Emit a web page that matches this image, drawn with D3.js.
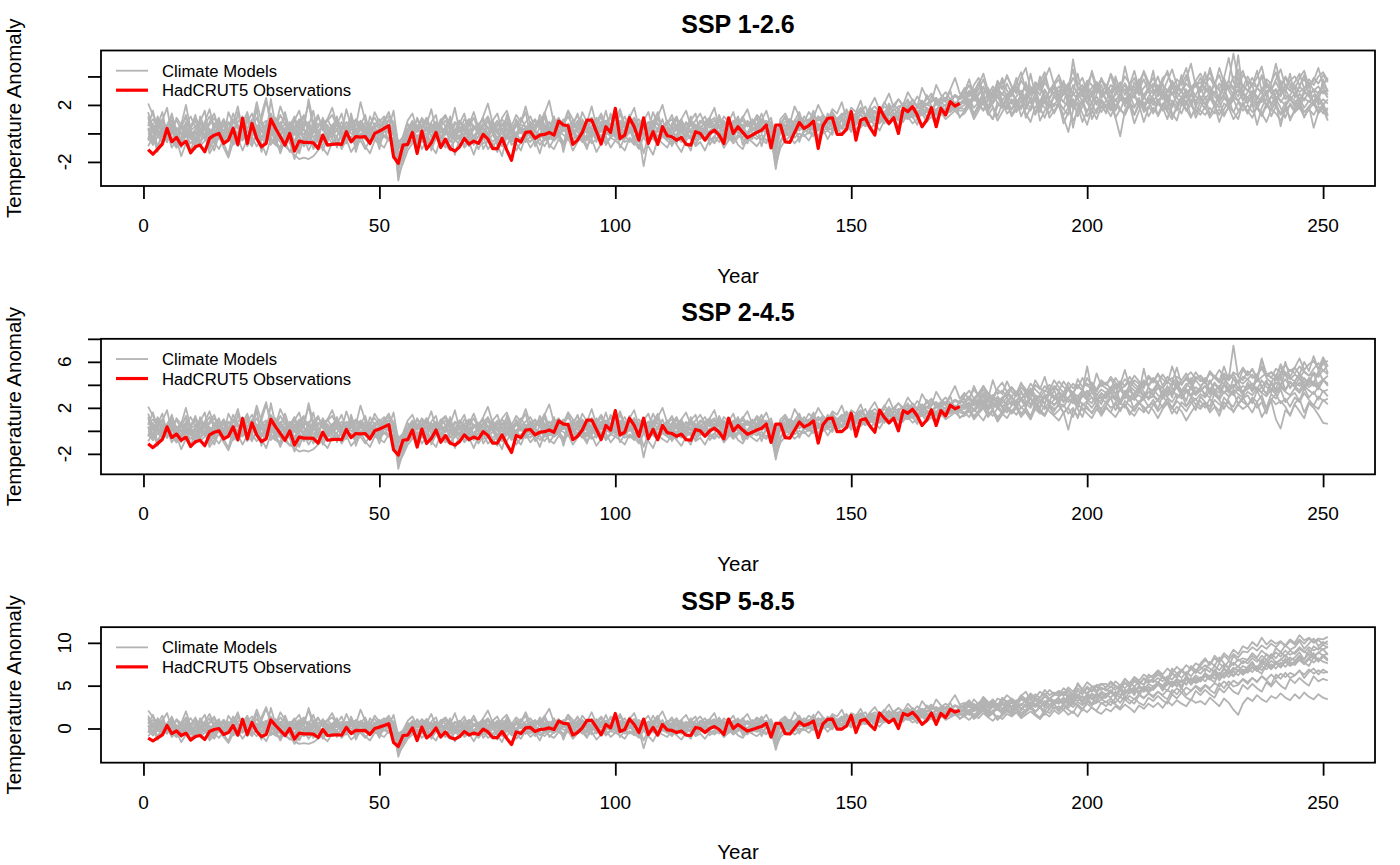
<!DOCTYPE html>
<html><head><meta charset="utf-8">
<script src="https://cdn.jsdelivr.net/npm/d3@7"></script>
<style>
body{margin:0;background:#fff}
svg{display:block}
text{font-family:"Liberation Sans",Arial,Helvetica,sans-serif;fill:#000}
</style>
</head><body>
<svg id="chart" width="1400" height="865"></svg>
<script>
// ---------------- DATA ----------------
const scenarioTitles = ["SSP 1-2.6", "SSP 2-4.5", "SSP 5-8.5"];
const xTickValues = [0, 50, 100, 150, 200, 250];
const yTickValues = [[-2, 0, 2, 4], [-2, 0, 2, 4, 6, 8], [0, 5, 10]];
const yTickLabels = [[-2, 2], [-2, 2, 6], [0, 5, 10]];
const yDomains = [[-3.69, 5.82], [-3.78, 8.0], [-3.99, 11.83]];
const legendLabels = ["Climate Models", "HadCRUT5 Observations"];
const xLabel = "Year";
const yLabel = "Temperature Anomaly";

// HadCRUT5 observations, years 1..173
const observations = [
-1.13,-1.46,-1.1,-0.75,0.35,-0.59,-0.28,-0.82,-0.54,-1.36,
-0.94,-0.82,-1.29,-0.35,-0.12,0.0,-0.7,-0.47,0.35,-0.77,
1.06,-0.7,0.7,-0.35,-0.94,-0.7,1.0,0.35,-0.23,-0.82,
0.0,-1.24,-0.54,-0.63,-0.63,-0.66,-1.06,-0.12,-0.82,-0.77,
-0.73,-0.77,0.12,-0.59,-0.23,-0.26,-0.23,-0.7,0.0,0.16,
0.35,0.54,-1.64,-2.1,-0.82,-0.77,0.07,-1.41,0.16,-1.1,
-0.66,0.07,-0.99,-0.4,-1.06,-1.24,-0.94,-0.35,-0.75,-0.54,
-0.7,-0.07,-0.4,-1.06,-1.06,-0.35,-1.17,-1.88,-0.4,-0.59,
0.07,0.12,-0.35,-0.12,-0.07,0.07,-0.12,0.87,0.59,0.54,
-0.77,-0.47,0.07,0.94,0.94,0.12,-0.75,0.47,0.07,1.76,
-0.35,-0.12,1.1,0.47,-0.47,1.1,-0.7,0.12,-0.77,0.47,
-0.16,-0.23,-0.47,-0.28,-0.77,-0.82,0.12,0.0,-0.47,0.0,
0.23,-0.12,-0.7,1.1,0.0,0.47,0.07,-0.3,-0.12,0.07,
0.23,0.59,-1.01,0.59,0.59,-0.59,-0.63,0.07,0.77,0.35,
0.54,0.87,-1.06,0.54,1.06,1.1,-0.07,-0.07,0.3,1.53,
-0.47,0.94,1.06,0.4,-0.12,1.81,1.17,0.7,1.1,0.0,
1.76,1.53,1.88,1.29,0.47,0.94,1.81,0.47,1.76,1.29,
2.23,1.92,2.11];

// Climate models, historical part, years 1..173 (shared by all scenarios)
const modelHistory = [
[0.8,0.3,-0.2,0.5,0.1,-0.4,0.2,0.6,-0.1,0.3,
-0.5,0.1,0.4,-0.2,0.7,0.2,-0.3,0.0,0.5,-0.4,
0.3,0.9,0.1,-0.3,0.4,0.6,-0.2,0.2,0.8,0.0,
-0.6,0.1,0.3,-0.1,0.5,-0.3,0.2,0.4,-0.4,0.1,
0.6,0.0,-0.3,0.3,0.1,0.7,-0.2,0.2,0.4,-0.1,
0.5,0.2,0.6,-1.6,-0.9,-0.2,0.3,-0.4,0.1,0.5,
-0.2,0.3,0.6,-0.1,0.2,-0.5,0.4,0.1,-0.3,0.3,
0.5,-0.2,0.1,0.7,0.0,-0.4,0.3,0.2,-0.1,0.4,
0.2,0.6,-0.3,0.4,0.1,0.8,0.0,-0.2,0.5,0.3,
-0.1,0.4,0.7,0.2,-0.3,0.5,0.1,0.6,-0.2,0.3,
0.5,0.0,0.4,-0.3,0.2,0.7,0.1,-0.2,0.4,0.3,
-0.4,0.2,0.5,0.0,-0.2,0.3,0.6,0.1,-0.3,0.2,
0.4,0.1,-0.2,0.5,0.3,0.0,0.6,-0.1,0.3,0.2,
0.5,0.1,0.4,-0.8,0.2,0.3,0.6,0.2,0.5,0.4,
0.3,0.8,0.2,0.6,0.9,0.4,0.7,0.5,1.0,0.6,
0.9,0.7,1.2,0.8,1.1,0.9,1.4,1.0,1.3,1.2,
1.5,1.1,1.6,1.4,1.3,1.8,1.5,1.7,1.9,1.6,
2.0,1.8,2.1],
[2.1,1.3,0.6,1.0,0.2,0.8,-0.3,0.5,1.1,0.4,
0.9,-0.2,0.6,1.2,0.3,-0.4,0.7,0.2,1.0,0.5,
-0.3,0.8,1.4,0.4,0.9,-0.1,0.6,1.1,0.2,0.7,
0.3,1.0,-0.2,0.5,0.8,0.1,1.2,0.4,-0.3,0.6,
0.9,0.2,0.5,1.1,-0.2,0.4,0.8,0.3,0.6,1.0,
0.4,0.9,0.7,-0.9,-0.6,0.1,0.6,0.2,0.9,0.3,
0.7,0.1,1.0,0.5,-0.2,0.6,0.9,0.3,0.5,1.1,
0.2,0.6,0.9,0.0,0.5,1.0,0.4,-0.1,0.7,0.3,
0.8,1.2,0.4,0.6,1.5,0.3,0.8,0.5,1.0,0.2,
0.7,1.3,0.5,0.9,0.2,0.8,1.4,0.6,0.4,1.0,
0.6,1.2,0.3,0.8,0.5,1.1,0.2,0.7,1.0,0.4,
0.9,0.3,0.6,1.0,0.2,0.7,0.4,0.9,0.5,0.8,
1.1,0.4,0.7,0.2,0.9,0.6,1.2,0.5,0.8,0.3,
0.9,0.6,1.1,-0.3,0.5,0.8,1.0,0.6,1.2,0.9,
0.7,1.1,0.9,1.3,0.8,1.2,1.0,1.4,1.1,1.5,
1.2,1.6,1.3,1.8,1.5,1.4,1.9,1.6,2.0,1.7,
2.1,1.8,2.4,1.9,2.2,2.0,2.6,2.1,2.3,2.5,
2.2,2.7,2.4],
[-0.3,-0.8,-0.2,-0.6,0.1,-0.5,-1.0,-0.4,-0.1,-0.7,
-0.3,-0.9,-0.5,0.0,-0.6,-1.1,-0.4,-0.2,-0.8,-0.5,
-0.1,-0.6,-0.3,-0.9,-0.4,0.2,-0.5,-0.8,-0.2,-0.6,
-1.3,-0.7,-0.4,-0.9,-0.3,-0.6,-1.0,-0.5,-0.2,-0.7,
-0.4,-0.9,-0.6,-0.2,-0.8,-0.5,-1.1,-0.4,-0.3,-0.6,
-0.2,-0.5,-0.3,-2.3,-1.6,-0.9,-0.5,-0.8,-0.3,-0.6,
-0.9,-0.4,-0.2,-0.7,-1.0,-0.5,-0.3,-0.8,-0.4,-0.6,
-0.2,-0.7,-0.5,-1.0,-0.4,-0.6,-0.1,-0.8,-0.5,-0.3,
-0.6,-0.2,-0.7,-0.4,-0.9,-0.3,-0.5,-0.1,-0.6,-0.4,
-0.8,-0.3,-0.5,-0.1,-0.7,-0.4,-0.2,-0.6,-0.3,-0.5,
-0.1,-0.6,-0.4,-0.8,-0.2,-2.3,-0.5,-0.3,-0.7,-0.2,
-0.5,-0.8,-0.3,-0.6,-0.1,-0.4,-0.7,-0.2,-0.5,-0.3,
-0.6,-0.1,-0.4,-0.2,-0.7,-0.3,0.0,-0.5,-0.2,-0.4,
-0.1,-0.5,-0.2,-2.5,-0.6,-0.2,0.1,-0.3,0.0,-0.2,
0.1,-0.2,0.3,0.0,0.2,0.4,0.1,0.5,0.2,0.6,
0.3,0.7,0.5,0.9,0.6,0.8,1.0,0.7,1.1,0.9,
1.2,1.0,1.3,1.1,1.5,1.2,1.4,1.6,1.3,1.7,
1.5,1.8,1.6],
[0.4,-0.5,1.2,0.2,-0.3,0.7,0.1,-0.6,0.5,-0.2,
0.3,0.8,-0.4,0.1,-0.7,0.4,1.0,-0.1,0.2,0.6,
0.0,-0.5,0.4,1.1,0.2,-0.3,2.4,0.5,-0.2,0.3,
0.7,-0.1,0.5,0.2,-0.4,0.9,0.1,-0.3,0.6,0.0,
-0.2,0.5,0.1,0.8,0.3,-0.4,0.2,0.6,-0.1,0.4,
0.8,0.1,0.5,-1.4,-1.2,-0.5,0.2,0.6,-0.2,0.3,
0.1,0.6,-0.4,0.3,0.8,-0.1,0.2,0.5,-0.3,0.4,
0.7,0.2,-0.2,0.4,0.9,0.1,-0.4,0.3,0.6,0.0,
0.3,-0.3,0.5,0.8,0.1,0.4,-0.2,0.7,0.2,0.5,
0.9,0.1,-0.2,0.6,0.3,0.0,0.8,0.2,0.5,-0.1,
0.2,0.7,0.4,0.1,0.6,-0.2,0.3,0.9,0.1,0.4,
0.6,-0.1,0.3,0.2,0.8,0.0,0.5,-0.2,0.4,0.7,
0.1,0.5,0.8,0.2,-0.1,0.6,0.3,0.9,0.4,0.1,
0.7,0.3,0.0,-1.0,0.4,0.6,0.2,0.8,0.5,0.3,
0.9,0.5,0.7,0.3,1.0,0.6,0.8,1.2,0.7,1.0,
1.3,0.8,1.1,1.4,0.9,1.6,1.2,1.5,1.1,1.7,
1.4,1.9,1.5,1.3,2.0,1.7,1.4,2.2,1.8,2.0,
2.4,1.9,2.2],
[1.0,0.6,0.2,-0.1,0.5,0.9,0.3,0.0,0.6,1.2,
0.4,0.1,0.7,0.3,-0.2,0.5,0.2,0.8,0.4,0.0,
0.6,0.3,1.0,0.5,0.1,0.7,0.2,0.4,1.3,0.6,
0.2,0.5,0.9,0.3,0.0,0.6,0.4,1.0,0.2,0.5,
0.3,0.8,0.1,0.5,0.9,0.2,0.6,0.0,0.4,0.7,
0.3,0.6,0.2,-1.1,-0.7,-0.2,0.4,0.1,0.6,0.2,
0.5,0.8,0.3,0.0,0.6,0.2,0.9,0.4,0.1,0.5,
0.3,0.7,1.2,0.4,0.1,0.5,0.8,0.2,0.6,0.3,
0.0,0.5,0.9,0.3,0.6,0.1,0.4,1.0,0.5,0.2,
0.6,0.3,0.8,0.1,0.5,1.1,0.4,0.2,0.7,0.5,
0.3,0.8,0.2,0.6,1.0,0.4,0.1,0.5,0.7,0.3,
0.0,0.6,0.9,0.4,0.2,0.7,0.3,0.5,0.1,0.6,
0.9,0.4,0.2,0.7,0.5,0.1,0.6,0.8,0.3,0.5,
0.2,0.7,0.5,-0.5,0.1,0.6,0.4,0.8,0.3,0.7,
0.5,0.9,0.6,0.4,0.8,1.1,0.7,0.9,0.6,1.2,
0.9,1.3,1.0,1.2,1.5,1.1,1.4,1.3,1.7,1.4,
1.6,1.9,1.5,1.8,1.7,2.1,1.8,2.0,2.2,1.9,
2.3,2.1,2.0],
[-0.5,0.2,-0.9,-0.1,-0.6,0.3,-0.4,-1.0,0.0,-0.3,
-0.8,-0.2,0.4,-0.5,-1.2,-0.1,-0.6,0.2,-0.4,-0.9,
-0.2,0.3,-0.7,-0.1,-0.5,0.1,-0.8,-0.3,-1.4,-0.4,
0.1,-0.5,-0.2,-0.8,0.0,-1.1,-0.3,-0.6,0.2,-0.4,
-0.7,-0.1,-0.5,-0.3,-0.9,0.0,-0.4,-0.7,-0.2,-0.5,
-0.1,-0.4,0.1,-3.3,-1.8,-0.8,-0.5,-0.1,-0.6,-0.3,
-0.7,-0.2,-0.5,-1.0,-0.1,-0.4,-0.8,-0.2,-0.6,-0.3,
-1.1,-0.4,-0.1,-0.6,-0.3,-0.9,-0.2,-0.5,0.1,-0.7,
-0.3,-0.6,-0.1,-0.8,-0.4,0.0,-0.5,-0.2,-0.7,0.1,
-0.4,-0.2,-0.6,-0.3,0.2,-0.5,-0.1,-0.8,-0.3,0.0,
-0.5,-0.1,-0.6,-0.3,-0.9,-0.2,0.0,-0.4,-0.7,-0.1,
-0.3,-0.6,-0.2,-0.5,0.1,-0.4,-0.8,-0.2,0.0,-0.5,
-0.2,-0.6,0.0,-0.3,-0.5,-0.1,-0.4,-0.7,0.1,-0.2,
-0.4,0.1,-0.3,-1.9,-0.5,0.0,-0.2,0.2,-0.3,0.1,
0.3,-0.1,0.4,0.1,0.5,0.2,0.6,0.3,0.7,0.4,
0.6,0.9,0.5,0.8,1.1,0.7,1.0,0.8,1.3,1.0,
1.1,1.4,1.2,1.6,1.3,1.5,1.8,1.4,1.7,1.5,
1.9,1.6,1.8],
[1.5,0.2,0.9,-0.2,0.6,1.3,0.1,0.7,-0.3,0.5,
1.1,0.4,-0.1,0.8,1.4,0.2,0.6,-0.4,0.9,0.3,
0.7,1.5,0.0,0.4,0.9,2.3,1.0,0.3,0.6,-0.2,
0.5,1.2,0.2,0.8,2.1,0.4,-0.1,0.6,1.0,0.3,
0.8,0.1,1.7,0.5,0.2,0.9,0.4,-0.2,0.7,0.3,
1.0,0.5,0.2,-1.0,-0.5,0.3,0.9,0.1,0.5,1.1,
0.3,-0.2,0.7,1.2,0.4,0.0,0.8,0.2,1.0,0.5,
-0.1,0.6,0.3,0.9,1.4,0.2,0.7,0.0,0.5,1.1,
0.4,0.8,0.1,1.3,0.6,0.2,1.0,0.4,0.7,1.6,
0.3,0.9,0.5,0.0,1.1,0.6,0.2,0.8,1.2,0.4,
1.4,0.5,0.9,0.2,0.7,1.0,0.3,1.5,0.6,0.1,
0.8,0.4,1.1,0.2,0.6,0.9,0.3,0.7,1.2,0.4,
0.6,1.0,0.3,0.8,0.5,1.2,0.2,0.7,0.9,0.4,
1.0,0.5,0.8,-0.4,0.6,1.1,0.4,0.9,0.6,1.2,
0.8,1.3,0.9,1.1,0.7,1.5,1.0,1.3,1.6,1.1,
1.4,1.8,1.2,1.6,1.9,1.5,2.2,1.7,2.0,2.4,
1.9,2.3,2.0,2.6,2.1,2.4,2.8,2.2,2.5,2.9,
2.4,2.7,2.5],
[0.0,-0.4,0.3,-0.7,-0.2,0.4,-0.1,-0.5,0.2,-0.3,
0.1,-0.6,-0.2,0.3,-0.4,0.0,-0.8,-0.3,0.2,-0.1,
-0.5,0.2,-0.2,0.5,-0.3,-0.7,0.1,-0.4,0.0,0.4,
-0.2,-0.6,0.1,-0.3,-0.8,0.2,-0.1,-0.5,0.0,-0.3,
0.3,-0.4,0.0,-0.6,-0.2,0.4,-0.3,0.1,-0.5,-0.1,
0.2,0.5,0.3,-1.8,-1.1,-0.6,0.0,-0.3,0.2,-0.2,
-0.5,0.1,-0.3,0.3,-0.6,-0.1,0.2,-0.4,0.0,-0.7,
-0.2,0.1,-0.5,-0.1,0.3,-0.4,0.0,-0.6,-0.2,0.2,
-0.1,0.3,-0.2,0.0,-0.5,0.4,-0.3,0.1,-0.1,-0.4,
0.2,-0.2,0.1,-0.5,0.0,0.3,-0.3,0.1,-0.2,0.4,
0.0,-0.3,0.2,0.5,-0.1,0.1,-0.4,0.0,0.3,-0.2,
0.1,-0.1,0.4,-0.3,0.0,0.2,-0.2,0.3,-0.1,0.1,
0.3,-0.2,0.1,0.4,0.0,0.2,-0.3,0.1,0.5,0.0,
0.2,0.4,0.0,-1.2,0.1,0.3,0.5,0.0,0.4,0.2,
0.6,0.3,0.5,0.8,0.4,0.7,0.5,0.9,0.6,0.8,
1.1,0.8,1.0,1.2,0.9,1.3,1.1,1.4,1.2,1.5,
1.3,1.6,1.4,1.2,1.7,1.5,1.9,1.6,1.4,1.8,
1.7,2.0,1.8],
[0.2,0.5,0.0,0.3,-0.3,0.1,0.4,-0.1,0.2,-0.4,
0.0,0.3,-0.2,-0.6,0.1,0.4,-0.1,0.2,-0.3,0.1,
0.4,-0.2,0.0,0.3,-0.4,0.1,0.5,-0.1,-0.6,-0.9,
-1.2,-1.5,-1.8,-1.7,-1.8,-1.6,-1.2,-0.8,-0.4,0.0,
0.2,-0.3,0.4,0.0,-0.2,0.3,0.1,-0.4,0.2,0.0,
0.3,0.0,0.4,-1.5,-0.8,-0.3,0.1,0.4,-0.2,0.0,
0.2,-0.3,0.1,0.4,-0.1,0.2,-0.4,0.0,0.3,-0.2,
0.1,0.4,-0.1,0.2,-0.3,0.0,0.3,0.1,-0.2,0.2,
0.4,0.0,0.2,-0.2,0.3,0.1,0.5,-0.1,0.2,0.0,
0.3,0.1,-0.2,0.4,0.0,0.2,0.5,-0.1,0.3,0.1,
-0.1,0.3,0.0,0.2,0.5,-0.1,0.1,0.3,-0.2,0.2,
0.4,0.0,-0.1,0.3,0.1,-0.3,0.2,0.4,0.0,0.1,
0.2,0.5,0.0,-0.1,0.3,0.4,0.1,0.0,0.2,0.5,
0.3,0.0,0.2,-0.6,0.4,0.1,0.3,0.5,0.2,0.6,
0.4,0.2,0.6,0.5,0.3,0.8,0.6,0.4,0.9,0.7,
0.9,0.6,1.0,0.8,1.2,1.0,0.8,1.3,1.1,1.2,
1.5,1.3,1.1,1.6,1.4,1.7,1.5,1.3,1.8,1.6,
1.7,1.9,2.0],
[0.6,1.0,0.4,0.8,0.1,0.5,0.9,0.3,0.7,0.2,
0.5,0.9,0.2,0.6,1.1,0.4,0.0,0.7,0.3,0.8,
1.2,0.4,0.7,0.1,0.6,0.9,0.3,1.0,0.5,0.2,
0.8,0.3,0.6,1.1,0.4,0.0,0.7,0.5,0.9,1.3,
0.5,0.2,0.8,0.4,1.0,0.6,0.1,0.7,1.1,0.5,
0.9,1.2,0.8,-0.6,-0.3,0.2,0.6,0.9,0.4,0.8,
0.3,0.7,0.5,0.9,0.2,0.8,0.4,0.6,1.0,0.3,
0.6,0.9,0.4,0.2,0.7,0.5,1.1,0.3,0.8,0.6,
0.5,0.1,0.6,1.0,0.4,0.8,0.3,0.9,0.6,1.2,
0.5,0.8,0.3,0.7,1.0,0.4,0.6,0.9,0.2,0.7,
0.9,0.4,0.7,1.1,0.5,0.3,0.8,0.6,1.2,0.4,
0.7,1.0,0.5,0.8,0.3,0.9,0.6,0.4,0.8,1.1,
0.5,0.8,0.6,1.0,0.4,0.7,0.9,0.5,0.6,1.0,
0.7,0.9,0.6,0.0,0.8,0.5,1.0,0.7,1.1,0.8,
1.0,0.7,1.2,0.9,1.1,1.3,0.9,1.2,1.4,1.1,
1.3,1.6,1.2,1.5,1.4,1.7,1.5,1.8,1.6,1.9,
2.0,1.7,2.1,1.9,2.3,2.0,2.2,2.5,2.1,2.4,
2.3,2.6,2.4],
[1.2,-0.5,0.6,1.5,-0.2,0.9,-0.8,0.4,1.3,0.0,
-0.6,0.8,1.6,-0.3,0.5,1.1,-0.7,0.2,1.4,0.6,
-0.4,1.0,0.1,1.8,-0.5,0.7,1.2,-0.2,0.4,1.5,
0.2,-0.9,0.8,1.3,-0.1,0.6,-0.6,1.1,0.3,-0.4,
1.0,0.4,-0.7,1.4,0.1,0.8,-0.3,1.2,0.5,-0.5,
0.9,1.5,0.3,-1.9,-0.4,0.7,-0.2,1.1,0.4,-0.6,
0.8,1.3,-0.4,0.5,1.0,-0.2,0.7,1.4,0.0,-0.8,
0.6,1.1,-0.3,0.9,0.2,-0.6,1.3,0.4,-0.1,0.8,
1.5,-0.2,0.6,1.0,-0.5,0.3,1.2,0.0,0.9,-0.4,
0.5,1.4,-0.1,0.7,1.1,-0.6,0.4,1.6,0.2,-0.3,
0.9,0.3,1.3,-0.4,0.6,1.0,-0.2,0.8,1.5,0.1,
-0.5,0.7,1.2,0.2,-0.3,0.9,1.4,-0.1,0.5,1.0,
0.0,1.3,0.4,-0.5,0.8,1.1,0.2,-0.2,1.0,0.6,
1.4,0.3,-0.3,-1.2,0.7,1.2,0.1,0.9,1.5,0.4,
0.8,1.6,0.3,1.1,0.6,1.4,0.9,0.4,1.7,1.0,
0.7,1.5,1.9,1.0,1.6,0.8,1.3,2.1,1.4,1.1,
1.8,2.4,1.3,2.0,1.6,2.7,1.9,1.4,2.5,2.2,
3.0,1.8,2.6],
[-0.4,0.7,-1.2,0.3,-0.6,0.9,-1.0,-0.2,0.5,-1.4,
0.2,-0.8,0.6,-1.1,-0.3,0.8,-0.7,-1.5,0.1,-0.5,
0.6,-0.9,-0.2,0.4,-1.3,0.0,0.7,-0.6,-1.0,0.3,
-0.7,0.5,-1.4,-0.3,0.6,-0.9,0.2,-1.2,-0.4,0.5,
-1.0,0.1,-0.6,0.8,-1.3,-0.2,0.4,-0.8,0.0,-1.1,
0.3,-0.5,0.6,-2.6,-1.4,-0.3,0.2,-0.9,-0.1,0.5,
-1.2,-0.3,0.4,-0.8,0.0,-1.5,-0.4,0.6,-0.9,-0.2,
0.3,-1.1,-0.5,0.5,-0.8,-1.6,-0.1,0.4,-0.7,-1.2,
-0.2,0.6,-0.9,-0.3,0.5,-1.0,-0.4,0.3,-1.3,0.1,
-0.6,0.7,-0.4,-1.1,0.2,-0.5,0.8,-0.8,-0.2,0.4,
-1.0,-0.3,0.5,-0.7,0.1,-1.4,-0.2,0.6,-0.6,0.0,
0.4,-0.9,-0.1,0.7,-0.6,-1.2,0.2,-0.4,0.5,-0.8,
-0.3,0.6,-1.0,0.1,-0.5,0.7,-0.8,0.0,-0.4,0.5,
-0.9,0.2,-0.3,-2.1,-0.7,0.4,-0.2,0.6,-0.6,0.3,
0.0,0.7,-0.4,0.9,0.2,-0.1,1.0,0.3,0.8,0.1,
1.1,0.4,0.9,1.4,0.5,1.2,0.7,1.6,0.9,1.3,
0.8,1.7,1.2,0.6,1.9,1.1,1.5,0.9,2.0,1.3,
1.6,2.2,1.1],
[0.5,1.6,0.2,0.9,1.8,-0.1,1.1,0.6,2.0,0.3,
1.3,0.0,0.8,1.7,0.4,1.0,-0.3,1.5,0.7,1.9,
0.2,1.2,0.6,2.2,0.8,0.1,1.4,0.5,1.9,1.0,
-0.2,0.9,1.6,0.3,2.4,0.7,1.3,0.2,1.0,1.8,
0.6,1.4,0.0,1.1,0.5,2.2,0.9,0.3,1.5,0.8,
1.2,0.4,1.6,-0.8,-0.2,0.9,1.4,0.3,1.1,0.6,
1.7,0.2,0.9,1.3,0.5,1.8,0.1,1.0,0.6,1.5,
0.4,1.2,2.1,0.7,0.0,1.1,1.6,0.5,1.3,0.8,
1.9,0.6,1.0,0.3,1.4,2.3,0.7,1.1,0.4,1.6,
1.0,0.2,1.5,0.8,1.9,0.5,1.2,0.0,1.4,0.9,
1.7,0.6,1.1,1.8,0.4,0.9,1.5,0.3,1.2,2.0,
0.7,1.3,0.2,1.0,1.6,0.5,0.9,1.4,0.6,1.1,
1.8,0.4,1.2,0.8,1.5,0.3,1.1,1.7,0.6,1.3,
0.9,1.6,0.5,-0.6,1.0,1.4,0.7,1.9,1.2,0.8,
1.5,1.1,2.0,1.3,0.9,1.7,1.4,2.2,1.0,1.8,
1.5,2.3,1.2,1.9,2.5,1.6,2.1,2.8,1.8,2.4,
2.0,2.9,2.3,1.9,3.2,2.5,2.2,3.4,2.7,2.4,
3.1,3.9,2.8],
[-0.9,-0.2,-1.3,-0.5,0.1,-1.0,-0.4,-1.6,-0.7,0.0,
-1.1,-0.5,-0.1,-1.4,-0.8,-0.2,-1.0,-1.7,-0.6,-0.3,
-1.2,-0.4,-0.9,0.2,-0.7,-1.5,-0.3,-0.8,-1.1,-0.2,
-0.6,-1.8,-0.9,-0.3,-1.2,-0.5,-0.1,-1.0,-1.5,-0.6,
-0.2,-1.1,-0.4,-1.3,-0.8,-0.1,-0.9,-1.4,-0.5,-0.7,
-1.0,-0.3,-0.6,-2.9,-2.1,-1.2,-0.7,-0.2,-1.1,-0.5,
-0.9,-1.4,-0.3,-0.8,-1.2,-0.4,-0.1,-1.0,-0.6,-1.5,
-0.5,-0.2,-1.1,-0.7,-1.3,-0.4,-0.9,-0.1,-1.2,-0.6,
-0.3,-1.0,-0.5,-1.4,-0.2,-0.8,-1.1,-0.4,-0.9,-0.3,
-1.2,-0.6,-0.1,-0.9,-0.4,-1.3,-0.7,-0.2,-1.0,-0.5,
-0.8,-1.2,-0.3,-0.6,-1.1,-0.2,-0.9,-1.5,-0.4,-0.7,
-1.0,-0.3,-0.8,-1.3,-0.5,-0.1,-0.9,-0.6,-1.2,-0.4,
-0.7,-0.2,-1.0,-0.5,-0.1,-0.8,-1.1,-0.3,-0.6,-0.9,
-0.4,-0.7,-0.1,-2.2,-1.0,-0.5,-0.2,-0.7,-0.3,-0.1,
-0.5,0.1,-0.2,0.3,-0.4,0.2,0.5,-0.1,0.4,0.6,
0.1,0.5,0.8,0.3,0.7,0.2,0.9,0.6,1.1,0.5,
0.9,1.2,0.7,1.0,1.4,0.8,1.2,0.6,1.5,1.0,
1.3,1.6,1.2],
[0.3,-0.8,1.1,0.5,-0.4,1.4,0.0,-0.9,0.8,0.2,
-0.5,1.2,0.4,-1.0,0.7,-0.2,1.0,0.3,-0.7,1.5,
0.1,-0.6,0.9,-0.3,1.3,2.5,0.4,-0.8,0.6,1.1,
-0.4,0.3,1.0,-0.9,0.5,1.6,-0.2,0.8,-0.6,0.4,
1.2,-0.5,0.2,0.9,-0.8,0.6,1.3,-0.1,0.5,-0.7,
0.4,1.0,-0.2,-2.2,-0.9,0.1,0.8,-0.6,0.3,1.1,
-0.3,0.6,-0.9,0.2,1.2,-0.5,0.4,-0.2,0.9,-0.7,
0.5,-0.4,1.1,0.0,-0.8,0.7,0.2,-0.5,1.0,0.3,
-0.6,0.8,0.1,-0.3,1.3,-0.4,0.6,0.0,-0.9,0.7,
0.2,-0.5,1.0,0.4,-0.3,0.9,-0.7,0.5,1.2,-0.2,
0.6,-0.4,0.1,1.1,-0.6,0.3,0.8,-0.3,0.2,1.0,
-0.2,0.5,-0.7,0.7,0.1,1.2,-0.5,0.3,0.8,-0.3,
0.6,-0.1,0.9,0.2,-0.4,1.0,0.4,-0.2,0.7,1.2,
0.0,0.8,0.3,-1.5,0.5,-0.1,0.9,0.4,1.1,0.2,
0.7,0.3,1.2,0.5,1.4,0.8,0.2,1.1,0.6,1.5,
0.9,1.4,0.6,1.8,1.1,1.5,0.8,1.9,1.3,1.7,
1.2,2.1,1.6,1.0,2.3,1.7,1.3,2.5,1.8,1.5,
2.2,1.9,2.6]
];

// Scenario projections, years 174..251, one row per model
const ssp126 = [
[2.4,1.9,2.7,2.2,1.6,2.5,2.9,2.1,1.8,2.6, 3.0,2.2,1.7,2.8,2.4,3.3,2.0,2.6,1.9,2.7, 2.3,3.1,2.5,1.8,2.9,2.2,3.4,2.6,2.0,2.8, 2.4,1.7,3.0,2.5,2.1,3.2,2.7,1.9,2.6,3.0, 2.2,2.8,3.5,2.4,1.8,2.9,2.5,3.1,2.0,2.7, 3.3,2.4,2.9,1.9,2.6,3.2,2.3,2.8,3.6,2.5, 2.1,2.9,2.4,3.0,1.8,2.6,3.1,2.2,2.7,2.4, 1.9,2.8,2.3,3.0,2.1,2.6,2.0,2.4],
[2.8,3.4,2.5,3.1,3.8,2.7,3.3,2.9,3.9,3.0, 2.6,3.5,4.3,3.0,2.8,3.6,3.2,4.0,2.9,3.4, 3.8,2.7,3.3,4.5,3.1,2.9,3.7,3.4,2.8,3.9, 3.2,4.1,3.0,3.6,2.7,3.4,4.4,3.1,3.8,2.9, 3.5,3.0,3.9,4.2,3.3,2.8,3.7,4.6,3.2,3.6, 3.0,3.8,4.3,3.4,3.1,3.9,5.3,3.6,3.2,4.1, 3.7,3.3,4.4,3.0,3.8,3.5,4.9,3.4,3.9,3.2, 3.6,4.2,3.1,3.8,3.4,4.0,4.3,3.7],
[1.6,2.1,1.3,1.8,2.3,1.5,1.0,1.9,2.2,1.4, 1.7,2.4,1.2,1.9,1.6,2.5,1.8,1.1,2.0,1.5, 2.2,1.7,1.3,2.4,1.9,0.8,1.6,2.1,1.4,2.3, 1.8,1.2,2.0,1.6,2.5,1.9,1.3,2.2,1.7,2.4, 1.5,2.1,1.8,1.0,2.3,1.9,2.6,1.6,2.0,1.4, 2.2,1.7,2.5,1.9,1.3,2.1,1.8,2.4,1.6,2.0, 1.4,2.3,1.9,1.2,2.0,1.6,2.4,1.8,1.1,2.1, 1.7,2.2,1.5,1.9,2.3,1.6,1.9,1.2],
[2.2,2.7,3.1,2.4,2.0,2.9,2.5,3.3,2.3,2.8, 2.1,2.6,3.0,2.4,4.2,2.7,2.2,3.1,2.5,2.9, 2.6,2.2,3.2,2.8,2.4,3.0,2.1,2.7,3.3,2.5, 2.9,2.3,2.7,3.1,2.2,2.8,2.5,3.4,2.6,2.1, 2.7,3.0,2.4,2.9,3.3,2.5,2.1,2.8,3.2,2.6, 2.3,2.9,3.1,2.6,2.2,2.8,3.3,2.7,5.5,2.9, 2.5,3.0,2.6,2.2,2.9,3.3,2.5,2.8,3.1,2.4, 2.8,2.3,3.0,2.6,2.2,2.9,3.2,2.7],
[2.5,2.9,2.3,2.7,3.2,2.6,2.2,3.0,2.8,2.4, 2.9,3.3,2.6,2.3,3.1,2.8,3.5,2.5,2.9,3.2, 2.7,3.0,2.4,3.4,2.8,2.6,3.1,2.9,3.5,2.7, 3.0,2.6,3.3,2.8,3.1,2.5,3.6,2.9,2.7,3.2, 2.8,3.4,2.6,3.0,2.7,3.3,2.9,2.5,3.1,3.5, 2.9,3.2,2.7,3.6,3.0,2.8,3.4,3.1,2.6,3.3, 3.0,2.7,3.2,2.9,3.5,2.8,3.1,2.6,3.4,3.0, 2.8,3.3,2.9,2.6,3.1,2.8,3.4,3.0],
[1.7,2.2,1.4,2.0,1.6,2.4,1.9,1.2,2.1,1.8, 2.3,1.5,2.0,1.7,2.5,1.3,2.2,1.8,1.4,2.1, 1.9,1.1,0.1,1.6,2.2,1.4,0.6,1.8,2.3,1.5, 2.0,1.6,2.4,1.7,1.3,2.1,1.8,2.5,1.5,1.9, 1.4,2.2,1.6,2.0,1.2,1.8,2.3,1.7,1.1,1.9, 1.6,1.3,1.8,1.4,1.7,1.2,1.9,1.5,2.2,1.6, 2.0,1.5,1.8,1.3,2.1,1.7,1.4,0.9,1.6,2.0, 1.5,1.8,1.2,1.7,2.1,1.4,1.8,1.6],
[3.0,2.6,3.4,3.9,2.8,3.2,2.5,3.6,3.1,4.1, 3.3,2.9,3.7,3.2,2.7,3.5,3.0,3.8,4.6,3.4, 2.9,3.6,3.1,3.9,3.3,2.8,3.5,4.2,3.0,3.7, 3.4,2.9,3.8,3.2,4.0,3.5,3.0,3.6,4.3,3.3, 3.9,3.1,3.6,4.4,3.2,3.8,3.4,4.1,3.0,3.7, 4.2,3.5,3.9,3.3,4.6,3.6,3.1,4.0,3.7,4.4, 3.4,3.9,3.2,4.1,3.6,3.0,3.8,4.5,3.3,3.7, 4.0,3.4,3.8,3.2,3.9,3.5,4.1,3.6],
[2.0,2.4,1.8,2.2,2.6,1.9,2.3,2.7,2.1,1.7, 2.4,2.0,2.8,2.2,1.8,2.5,2.1,2.7,2.3,1.9, 2.6,2.2,1.9,2.8,2.4,2.0,2.5,2.9,2.1,2.4, 1.9,2.6,2.3,2.8,2.0,2.4,2.7,2.2,1.8,2.5, 2.3,2.0,2.7,2.4,2.9,2.1,2.5,2.2,2.8,2.3, 2.6,2.1,2.4,2.9,2.2,2.7,2.0,2.5,2.3,2.8, 2.2,2.6,2.0,2.4,2.8,2.1,2.5,2.3,2.0,2.6, 2.3,1.9,2.5,2.2,2.7,2.0,2.4,2.1],
[2.2,1.8,2.5,2.0,2.4,1.6,2.1,2.6,1.9,2.3, 1.7,2.2,2.6,1.9,2.3,1.5,2.0,2.4,1.8,2.6, 2.1,1.7,2.5,0.4,1.9,2.3,1.5,2.2,2.6,1.8, 2.3,2.0,1.6,2.4,2.1,2.7,1.9,2.3,1.7,2.5, 2.0,2.4,1.8,2.6,2.2,1.6,2.5,2.1,2.8,1.9, 2.4,2.0,2.7,2.2,1.8,2.5,2.1,2.8,2.3,1.9, 2.5,2.1,1.7,2.4,2.0,2.6,2.2,0.5,1.9,2.4, 2.1,2.5,1.8,2.3,2.0,2.6,1.7,0.9],
[2.6,3.0,2.4,2.8,3.3,2.5,2.9,3.2,2.7,3.5, 2.8,3.1,2.6,3.4,2.9,3.2,2.7,3.6,3.0,2.8, 3.3,2.9,3.5,2.7,3.1,3.4,2.8,3.2,3.6,3.0, 2.8,3.4,3.1,2.9,3.5,3.0,3.3,2.7,3.2,3.6, 3.1,2.8,3.4,3.0,3.6,3.2,2.9,3.5,3.1,3.3, 3.6,3.0,3.3,2.8,3.5,3.1,3.7,3.2,2.9,3.4, 3.0,3.5,3.2,2.8,3.4,3.1,3.6,2.9,3.3,3.0, 3.4,2.9,3.2,3.6,3.0,3.3,2.8,3.1],
[3.2,2.0,2.9,3.6,2.3,1.7,3.1,2.6,3.8,2.2, 2.8,3.9,2.4,1.9,3.3,2.7,4.0,2.1,3.0,3.5, 2.5,3.7,1.8,2.9,4.2,2.6,3.2,2.0,3.6,2.8, 3.4,2.2,4.0,2.9,1.9,3.3,2.7,3.8,2.4,3.1, 4.4,2.6,3.0,2.1,3.7,2.9,4.1,2.5,3.3,2.0, 3.1,4.3,2.7,3.5,2.2,3.9,3.0,2.4,4.5,2.8, 3.6,2.3,3.2,4.0,2.6,3.4,1.9,3.7,2.8,4.2, 2.5,3.3,4.1,2.7,3.0,2.2,3.8,2.9],
[1.6,2.4,1.2,2.0,2.8,1.5,1.0,2.2,1.8,2.6, 1.3,2.0,2.7,1.1,1.8,2.5,0.9,1.6,2.3,1.4, 2.1,0.7,1.5,2.4,1.2,1.9,2.8,1.0,1.7,2.2, 1.4,2.6,1.1,-0.2,1.6,2.3,1.3,2.0,0.8,1.8, 2.5,1.2,1.9,2.7,1.4,0.9,2.1,1.6,2.4,1.1, 1.8,2.6,1.3,2.0,0.8,1.7,2.3,1.5,1.0,2.2, 1.4,2.1,0.6,1.8,2.5,1.2,1.9,1.4,2.2,0.9, 1.7,2.3,1.1,1.9,0.4,1.5,2.1,1.3],
[2.9,3.8,2.6,3.4,4.2,3.0,2.5,3.7,3.2,4.0, 3.3,2.8,3.9,4.6,3.1,2.7,3.6,4.3,3.0,3.5, 4.1,3.2,2.6,5.2,3.4,3.9,2.9,4.4,3.3,3.8, 3.0,4.2,3.5,2.8,4.7,3.3,3.9,3.1,4.4,3.6, 3.2,4.0,2.9,3.7,4.5,3.4,3.0,3.8,4.9,3.3, 3.9,3.1,4.6,3.5,4.1,3.0,3.7,5.6,3.8,3.2, 4.0,3.4,3.9,4.7,3.2,3.6,4.3,3.0,4.0,3.5, 3.1,3.9,4.4,3.3,3.7,4.6,3.4,3.9],
[1.4,1.9,1.0,1.6,2.2,1.3,1.8,0.9,1.5,2.1, 1.2,1.7,2.3,1.4,0.8,1.9,1.5,2.4,1.1,1.6, 2.0,1.3,1.8,0.9,1.5,2.2,1.2,1.7,1.0,1.9, 1.5,2.1,1.1,1.7,1.3,2.0,0.7,1.6,2.2,1.2, 1.8,1.3,2.1,1.5,1.0,1.9,1.4,2.3,1.2,1.7, 1.3,1.9,1.1,1.6,2.2,1.4,1.8,1.0,1.5,2.0, 1.6,1.1,1.9,1.4,0.8,1.7,2.1,1.3,1.8,1.1, 1.5,2.0,1.2,1.7,1.3,1.9,1.4,1.8],
[2.6,1.8,3.1,2.2,2.9,1.5,2.7,3.4,2.0,2.5, 3.2,1.9,2.6,3.6,2.1,2.8,1.6,3.0,2.4,3.3, 2.0,2.9,3.5,1.7,2.6,3.2,2.2,1.4,2.8,3.4, 2.3,3.0,1.8,2.7,3.5,2.1,2.9,3.3,1.9,2.6, 3.1,2.2,2.8,1.6,3.4,2.5,3.0,2.0,2.7,3.6, 2.4,2.9,3.3,2.0,2.7,3.5,1.8,2.6,3.1,2.3, 2.9,3.4,2.1,2.6,3.0,1.9,2.8,3.3,2.4,2.7, 3.2,2.2,2.8,3.5,2.0,2.6,3.0,2.5]
];

const ssp245 = [
[2.1,2.5,1.8,2.3,2.7,2.0,2.4,1.9,2.8,2.2, 2.6,2.1,2.9,2.4,2.0,2.8,2.5,3.1,2.3,2.7, 3.0,2.5,2.9,3.4,2.6,3.1,2.7,2.4,3.2,2.8, 3.3,2.8,3.1,2.6,3.5,3.0,2.7,3.4,3.1,2.9, 3.6,3.1,2.8,3.5,3.2,3.8,3.0,3.4,3.7,3.1, 3.5,3.9,3.2,3.6,3.3,4.1,3.5,3.2,3.8,3.4, 4.0,3.5,3.8,3.3,4.2,3.7,3.4,4.0,3.6,4.3, 3.8,4.2,3.7,4.4,3.9,4.1,4.5,3.9],
[3.0,3.5,2.8,3.3,3.9,3.1,2.7,3.6,3.2,4.3, 3.4,3.0,3.8,3.3,4.1,3.6,3.2,3.9,3.5,4.4, 3.8,3.3,4.2,3.7,4.0,3.5,4.6,3.9,3.4,4.2, 4.0,4.5,3.8,4.3,3.9,4.7,4.1,3.7,4.4,4.0, 4.6,4.2,4.9,4.3,3.9,4.7,4.4,5.0,4.1,4.5, 4.8,4.3,5.1,4.6,4.2,5.0,4.5,7.4,4.7,4.4, 5.2,4.6,4.9,5.4,4.7,5.1,4.8,5.5,4.9,5.3, 5.0,5.6,5.1,4.8,5.4,5.9,5.2,5.7],
[1.5,1.9,1.3,1.7,2.1,1.4,1.8,1.2,1.6,2.0, 1.7,2.2,1.5,1.9,1.3,2.1,1.8,1.4,2.3,1.9, 2.2,1.6,2.0,1.2,2.4,1.8,2.1,1.5,2.3,1.9, 2.5,2.0,2.3,1.7,2.6,2.2,1.8,2.4,2.1,1.5, 2.3,2.7,2.0,2.5,1.9,2.6,2.2,1.7,2.4,2.8, 2.1,2.5,1.8,2.7,2.3,2.0,2.6,1.6,2.4,2.9, 2.2,2.7,2.0,2.5,1.5,2.8,2.3,2.6,2.1,1.3, 2.4,2.8,1.6,2.5,2.2,1.9,2.7,2.3],
[2.3,2.0,2.7,2.4,3.0,2.2,2.6,2.9,2.1,2.5, 2.9,2.4,3.5,2.6,2.3,3.0,2.7,2.4,3.2,2.8, 2.6,3.1,2.8,3.3,2.5,3.0,3.5,2.9,2.7,3.2, 3.0,3.4,2.8,3.6,3.1,2.9,3.3,3.8,3.0,3.4, 3.2,3.7,3.4,3.0,3.5,3.9,3.3,3.6,3.1,3.8, 3.4,3.9,3.5,4.2,3.6,3.3,3.8,4.0,3.5,3.9, 3.7,4.1,3.6,4.4,3.8,3.5,4.2,3.9,4.5,3.8, 4.2,3.9,4.6,4.0,4.3,3.8,4.4,4.1],
[2.4,2.8,2.2,2.6,3.1,2.5,2.9,2.3,2.7,3.2, 2.8,2.5,3.3,2.9,3.6,2.7,3.1,2.8,3.4,3.0, 3.2,2.9,3.7,3.3,3.0,3.5,5.6,3.4,3.1,3.6, 3.3,3.8,3.2,3.6,3.0,3.9,3.5,3.3,5.4,3.7, 3.5,4.0,3.7,3.4,4.2,3.8,3.5,4.1,3.7,4.4, 3.9,4.3,3.6,4.1,3.8,4.6,4.0,3.7,4.4,4.1, 4.5,4.0,4.3,6.2,4.6,4.2,4.8,4.4,6.0,4.6, 4.3,4.9,4.5,4.2,5.1,4.7,6.2,5.0],
[1.6,1.2,1.9,1.4,0.9,1.7,1.3,2.0,1.5,1.1, 1.8,1.4,2.1,1.6,1.0,1.9,1.5,2.2,1.7,1.3, 0.9,1.6,0.1,1.8,1.3,2.0,1.5,1.1,1.9,1.4, 2.1,1.6,1.2,1.9,2.3,1.7,1.3,2.0,1.6,2.2, 1.8,1.1,1.9,2.4,1.5,2.1,1.7,0.9,1.6,2.2, 1.9,2.4,1.6,2.1,1.3,2.5,2.0,1.7,2.3,1.9, 2.2,1.6,2.5,1.2,1.9,2.6,1.0,0.2,1.8,1.4, 2.3,1.7,1.1,2.4,2.0,1.4,0.7,0.6],
[3.2,2.8,3.6,3.0,3.9,3.3,2.9,3.7,4.2,3.4, 3.8,3.3,4.1,3.6,3.2,4.4,3.7,3.4,4.0,3.6, 4.3,3.8,3.5,4.1,3.7,4.6,3.9,4.2,3.6,4.4, 4.0,4.7,4.2,3.8,4.5,4.1,4.8,4.3,3.9,4.6, 4.2,4.9,4.5,4.1,5.6,4.4,4.0,4.7,5.1,4.5, 4.8,4.3,5.0,4.6,5.3,4.7,4.4,5.1,4.8,5.5, 4.9,5.3,4.7,5.6,5.0,4.6,5.4,5.1,5.7,5.2, 5.5,6.3,5.3,5.8,6.1,5.4,6.4,5.6],
[1.9,2.3,1.7,2.1,2.5,1.8,2.2,2.6,2.0,1.6, 2.2,2.7,2.0,2.4,2.8,2.1,2.5,1.9,2.6,2.3, 2.5,2.1,2.8,2.4,3.0,2.2,2.6,2.9,2.3,2.7, 2.5,3.0,2.7,2.3,3.1,2.6,2.9,2.4,3.2,2.8, 3.0,2.6,3.3,2.9,2.5,3.2,2.8,3.4,3.0,2.7, 3.2,2.9,3.5,3.1,2.7,3.4,3.0,3.6,3.2,2.9, 3.4,3.1,3.7,3.3,3.0,3.6,3.2,3.8,3.4,3.1, 3.7,3.3,3.9,3.5,3.2,3.8,3.4,3.6],
[2.0,2.4,1.8,2.6,2.2,1.9,2.5,2.1,2.7,2.3, 2.5,2.0,2.8,2.3,2.9,2.4,2.1,3.0,2.6,2.2, 2.8,3.2,2.5,2.9,2.3,3.1,2.7,3.4,2.6,3.0, 2.8,3.3,2.9,2.5,3.2,3.6,2.9,3.1,2.7,3.4, 3.1,2.7,3.5,3.2,3.8,2.9,3.3,3.6,3.0,3.4, 3.7,3.2,2.9,3.5,3.9,3.3,3.6,3.1,3.8,3.4, 3.6,4.0,3.4,3.8,3.2,4.1,3.5,3.9,3.6,4.2, 3.9,3.5,4.3,3.8,4.1,3.6,4.4,4.0],
[2.6,3.0,2.4,2.8,3.3,2.7,3.1,2.5,2.9,3.4, 3.0,3.4,2.8,3.2,3.7,3.1,2.9,3.5,3.3,3.8, 3.4,3.1,3.7,3.3,3.9,3.5,3.2,3.8,3.6,4.0, 3.7,3.4,4.1,3.6,3.9,4.3,3.8,3.5,4.2,3.9, 4.4,4.0,3.7,4.3,4.6,3.9,4.2,4.5,4.0,4.7, 4.3,4.6,4.1,4.8,4.4,4.1,4.9,4.5,4.2,4.7, 4.5,4.9,4.3,4.7,5.0,4.6,4.4,5.1,4.8,4.5, 4.9,4.6,5.2,4.8,5.0,4.7,5.3,4.9],
[2.8,1.9,2.5,3.2,2.1,2.7,1.8,3.0,2.4,2.9, 2.2,3.3,2.7,2.0,3.5,2.6,3.1,2.3,3.7,2.8, 3.4,2.5,3.9,3.0,2.4,3.6,2.9,4.1,2.7,3.3, 2.9,3.8,3.2,4.3,2.8,3.5,3.0,4.0,3.4,2.7, 3.6,4.2,3.1,3.9,2.9,4.4,3.3,3.8,4.6,3.2, 3.7,4.5,3.2,4.1,3.5,4.8,3.4,3.9,4.3,3.1, 4.2,3.6,4.9,3.8,4.4,3.3,4.6,4.0,5.1,3.7, 4.3,5.0,3.9,4.6,4.1,5.2,4.4,4.8],
[1.5,2.1,1.1,1.8,2.4,1.3,1.9,1.0,1.7,2.2, 1.6,2.3,1.4,2.0,1.1,2.5,1.8,1.3,2.2,1.7, 2.4,1.5,2.1,2.8,1.9,1.2,2.5,2.0,2.7,1.6, 2.2,2.9,1.8,2.5,2.0,3.0,1.7,2.4,2.8,2.1, 2.7,1.9,3.1,2.4,2.0,2.8,3.2,2.2,2.6,1.8, 3.0,2.5,2.1,3.3,2.7,1.9,2.9,3.4,2.3,2.8, 3.1,2.4,3.5,2.7,2.0,3.2,2.8,3.6,2.5,3.0, 3.3,2.6,3.7,2.9,3.4,2.7,3.5,3.0],
[3.3,2.7,3.9,3.0,3.6,2.8,4.4,3.2,3.5,2.9, 3.8,3.1,4.2,3.4,2.9,4.0,3.6,4.7,3.3,3.9, 3.5,4.3,3.7,3.1,4.5,3.8,4.1,3.4,5.0,3.9, 4.2,3.6,4.6,4.0,5.3,3.8,4.4,4.1,3.7,4.8, 4.3,5.0,3.9,4.7,4.2,5.5,4.0,4.6,4.3,5.1, 4.5,4.1,5.2,4.7,4.3,5.6,4.4,4.9,4.2,5.3, 4.8,5.4,4.5,6.3,4.9,5.1,4.6,5.8,5.0,4.7, 5.5,4.9,6.0,5.2,6.5,5.3,5.8,6.1],
[1.3,1.8,1.0,1.5,2.0,1.2,1.7,0.8,1.4,1.9, 1.5,2.0,1.2,1.7,1.0,2.2,1.6,1.3,2.1,1.4, 1.8,2.3,1.5,2.0,1.1,2.4,1.9,1.6,2.2,1.3, 2.0,1.6,2.5,1.9,2.3,1.4,2.1,2.6,1.8,2.2, 2.4,1.7,2.2,2.8,2.0,1.5,2.5,2.1,2.9,2.3, 2.6,2.0,2.8,2.2,1.7,2.9,2.4,2.1,3.0,2.5, 2.2,2.9,2.5,3.1,1.9,2.7,3.2,2.4,2.8,2.1, 2.9,2.5,3.3,2.7,2.2,3.0,2.6,2.8],
[2.4,1.6,2.9,2.0,2.7,1.8,3.1,2.2,1.7,2.6, 3.0,2.1,2.7,3.4,2.2,2.9,1.9,3.2,2.5,3.6, 2.4,3.1,3.8,2.6,2.0,3.3,2.7,4.2,2.9,2.3, 3.4,2.8,3.9,2.5,3.2,4.0,2.7,3.5,2.9,3.8, 3.0,4.1,2.8,3.6,3.1,4.3,3.4,2.6,3.9,3.3, 3.8,3.0,4.4,3.5,2.9,4.0,3.3,4.6,3.7,3.1, 4.1,3.4,4.7,3.8,3.2,4.3,3.6,4.9,3.5,4.2, 3.9,4.6,3.6,4.3,5.0,3.8,4.4,4.1]
];

const ssp585 = [
[2.1,1.7,2.4,2.0,2.5,1.9,2.6,2.2,2.8,2.3, 2.6,2.2,2.9,2.5,3.1,2.7,2.4,3.2,2.8,3.0, 3.3,2.8,3.5,3.1,3.7,3.2,3.9,3.4,3.8,3.6, 4.0,3.6,4.3,3.9,4.5,4.1,4.7,4.2,4.9,4.5, 4.8,5.3,4.6,5.1,5.5,4.9,5.7,5.2,5.9,5.4, 6.0,5.5,6.2,5.8,6.5,6.0,6.7,6.2,6.9,6.4, 7.0,6.6,7.3,6.8,7.5,7.1,7.7,7.2,7.9,7.4, 7.8,8.3,7.6,8.1,8.5,7.9,8.4,8.0],
[2.7,3.1,2.5,2.9,3.3,2.8,3.2,2.6,3.4,3.0, 3.3,2.9,3.7,3.2,3.9,3.4,3.6,4.1,3.5,3.9, 4.2,3.8,4.5,4.0,4.7,4.3,4.9,4.4,5.1,4.6, 4.6,4.2,5.0,4.7,5.3,4.8,5.5,5.1,5.8,5.3, 5.7,5.3,6.1,5.6,6.4,5.9,6.7,6.2,7.0,6.5, 7.6,8.2,7.4,8.5,7.9,8.8,8.3,9.2,8.7,9.6, 9.3,10.1,9.6,10.6,9.8,10.3,9.9,10.2,9.7,10.4, 10.0,10.9,10.3,10.6,10.1,10.5,10.4,10.7],
[1.6,2.0,1.4,1.8,2.2,1.5,1.9,2.3,1.7,2.1, 1.9,2.4,1.8,2.2,2.6,2.0,2.5,2.1,2.7,2.3, 2.6,2.2,2.9,2.5,3.1,2.7,3.3,2.8,3.0,3.4, 3.1,3.5,3.0,3.7,3.3,3.8,3.4,4.0,3.6,4.1, 3.8,4.3,3.9,4.5,4.1,4.7,4.2,4.8,4.4,5.0, 4.6,5.1,4.7,5.3,4.9,5.5,5.0,5.6,5.2,5.8, 5.4,5.9,5.5,6.1,5.7,6.3,5.8,6.4,6.0,6.5, 6.2,6.7,6.3,6.9,6.4,6.8,6.5,6.6],
[2.2,2.6,2.0,2.4,2.8,2.1,2.5,2.9,2.3,2.7, 2.5,3.0,2.7,3.3,2.9,2.6,3.4,3.0,3.6,3.2, 3.5,3.1,3.8,3.4,4.0,3.6,3.3,4.1,3.7,4.3, 4.0,4.4,3.9,4.6,4.2,4.8,4.3,5.0,4.6,5.2, 4.9,5.4,5.0,5.6,5.2,5.8,5.4,6.0,5.6,6.2, 5.8,6.4,6.0,6.6,6.2,6.9,6.4,7.1,6.7,7.3, 7.0,7.5,7.1,7.7,7.3,7.9,7.5,8.1,7.7,8.3, 7.9,8.5,8.1,8.7,8.3,8.9,8.5,8.8],
[2.3,2.7,2.1,2.5,3.0,2.4,2.8,2.2,2.9,2.6, 3.0,2.7,3.4,3.1,2.8,3.6,3.2,3.8,3.4,3.1, 3.7,4.2,3.6,4.0,3.8,4.4,4.0,4.6,4.2,4.8, 4.4,4.9,4.5,5.1,4.7,5.3,4.9,5.5,5.1,5.7, 5.4,5.9,5.5,6.1,5.7,6.4,5.9,6.6,6.1,6.8, 6.4,7.0,6.6,7.3,6.8,7.5,7.0,7.7,7.2,7.9, 7.6,8.2,7.8,8.5,8.0,8.7,8.2,8.9,8.4,9.1, 8.7,9.3,8.9,9.5,9.1,9.4,9.2,9.6],
[1.4,1.0,1.6,1.2,1.8,1.3,0.9,1.5,1.1,1.7, 1.4,1.9,1.2,1.6,2.0,1.5,1.1,1.8,1.4,2.1, 1.7,2.2,1.6,2.0,1.4,2.3,1.9,2.5,2.0,1.7, 2.3,2.0,2.6,2.2,2.8,2.4,1.9,2.7,2.3,2.9, 2.5,3.0,2.4,3.2,2.7,3.3,2.9,2.6,3.4,3.0, 3.2,2.8,3.6,3.1,2.6,3.5,3.0,2.2,1.6,2.9, 3.6,3.2,3.9,3.4,3.1,3.8,3.5,4.1,3.6,3.3, 4.0,3.5,4.2,3.7,3.4,4.0,3.6,3.4],
[2.8,3.3,2.6,3.0,3.5,2.9,3.4,2.7,3.6,3.1, 3.5,3.1,3.9,3.4,4.1,3.6,4.3,3.8,4.5,4.0, 4.4,4.0,4.8,4.3,5.1,4.6,5.4,4.9,5.0,5.2, 5.2,4.8,5.5,5.0,5.8,5.3,6.0,5.6,6.3,5.9, 6.2,6.8,6.3,7.0,6.5,7.2,6.7,7.4,6.9,7.6, 7.3,8.0,7.5,8.2,7.7,8.5,8.0,8.7,8.3,9.0, 8.9,9.5,9.1,9.7,9.3,9.9,9.5,10.1,9.6,10.2, 9.8,10.4,9.9,10.5,10.0,10.3,9.9,10.2],
[1.8,2.2,1.6,2.0,2.4,1.7,2.1,2.5,1.9,2.3, 2.1,2.6,2.3,2.8,2.4,2.9,2.5,3.1,2.7,3.2, 2.9,3.4,3.0,3.6,3.2,3.8,3.3,3.9,3.5,4.1, 3.7,4.2,3.8,4.4,4.0,4.6,4.1,4.8,4.3,4.9, 4.5,5.1,4.7,5.3,4.9,5.5,5.0,5.7,5.2,5.9, 5.5,6.1,5.7,6.3,5.9,6.5,6.0,6.7,6.2,6.9, 6.5,7.1,6.7,7.3,6.9,7.5,7.0,7.7,7.2,7.8, 7.4,8.0,7.5,8.1,7.7,8.2,7.8,7.6],
[2.0,1.6,2.3,1.9,2.5,2.1,1.8,2.4,2.0,2.6, 2.3,2.8,2.4,2.1,2.9,2.5,3.1,2.7,3.3,2.8, 3.1,3.6,3.2,2.8,3.7,3.3,3.9,3.5,4.1,3.6, 3.9,4.4,4.0,3.6,4.5,4.1,4.7,4.3,4.9,4.4, 4.7,5.2,4.8,4.4,5.4,5.0,5.6,5.1,5.8,5.3, 5.6,6.2,5.8,5.4,6.4,5.9,6.6,6.1,6.8,6.3, 6.7,7.2,6.8,6.4,7.4,6.9,7.6,7.1,7.8,7.3, 7.6,8.1,7.7,7.3,8.3,7.8,8.4,7.9],
[2.5,2.9,2.3,2.7,3.2,2.6,3.0,2.4,3.1,2.8, 3.1,2.8,3.5,3.2,3.8,3.3,3.0,3.7,3.4,4.0, 3.8,4.3,3.9,3.6,4.4,4.0,4.7,4.3,4.9,4.5, 4.8,5.3,4.9,4.5,5.4,5.0,5.7,5.2,5.9,5.5, 5.8,6.3,5.9,5.5,6.5,6.0,6.8,6.3,7.0,6.5, 6.9,7.4,7.0,6.6,7.6,7.1,7.9,7.4,8.1,7.6, 8.0,8.5,8.1,7.7,8.7,8.2,8.9,8.4,9.1,8.6, 8.9,9.5,9.0,8.6,9.6,9.2,9.8,9.4],
[2.6,1.8,2.9,2.2,2.7,1.9,3.0,2.4,2.1,3.2, 2.5,3.3,2.2,2.9,3.6,2.6,3.1,2.4,3.5,2.8, 3.4,2.8,3.9,3.2,3.7,2.9,4.2,3.5,3.1,4.0, 3.8,4.5,3.6,4.9,4.1,4.6,3.9,5.0,4.3,4.8, 4.6,5.4,4.9,5.8,5.1,5.6,4.8,6.2,5.5,5.9, 5.7,6.5,6.0,6.9,6.2,7.1,6.4,6.8,7.3,6.6, 7.2,7.8,6.9,8.1,7.5,8.4,7.7,8.0,8.6,7.9, 8.3,8.9,8.0,9.2,8.5,8.8,9.3,8.6],
[1.6,2.1,1.2,1.8,2.3,1.4,2.0,1.1,1.7,2.2, 1.8,2.4,1.5,2.1,2.7,1.9,2.5,1.6,2.3,2.8, 2.2,2.9,2.4,3.1,2.6,2.1,3.2,2.7,3.4,2.9, 3.1,2.7,3.6,3.0,3.8,3.3,2.9,3.9,3.5,4.1, 3.6,4.3,3.8,3.4,4.5,4.0,4.7,3.9,4.4,4.9, 4.3,5.0,4.5,4.1,5.3,4.7,5.5,4.9,5.1,5.7, 5.2,5.9,5.4,6.1,5.6,5.1,6.3,5.8,6.5,5.9, 6.2,6.8,5.9,6.6,7.0,6.3,6.9,6.5],
[3.0,2.5,3.4,2.8,3.7,3.1,2.6,3.5,3.2,3.9, 3.4,2.9,3.8,4.3,3.3,4.0,3.6,4.5,3.9,4.2, 4.0,4.7,4.2,3.8,5.3,4.5,4.1,4.9,4.4,5.2, 4.8,5.5,5.0,4.6,5.8,5.2,6.0,5.4,5.1,6.3, 5.9,6.6,6.1,5.7,7.0,6.4,6.9,6.2,7.3,6.8, 7.2,6.7,7.8,7.3,8.3,7.6,7.1,8.5,7.9,8.2, 8.0,8.8,8.3,9.1,8.6,8.2,9.4,8.9,9.7,9.2, 9.5,10.2,9.3,9.9,10.5,9.6,10.1,9.8],
[1.4,1.9,1.1,1.6,2.1,1.3,1.8,1.0,1.5,2.0, 1.6,2.2,1.4,1.9,2.4,1.7,1.3,2.1,1.8,2.5, 2.0,2.6,2.2,1.8,2.8,2.3,2.9,2.4,2.1,3.0, 2.6,3.2,2.8,2.4,3.4,2.9,3.5,3.0,2.7,3.6, 3.2,3.8,3.3,2.9,4.0,3.5,4.2,3.6,3.3,4.4, 3.9,4.5,4.0,3.6,4.7,4.2,4.9,4.3,4.0,5.1, 4.6,5.2,4.7,4.3,5.4,4.9,5.6,5.0,4.6,5.8, 5.3,5.9,5.4,5.0,6.1,5.5,5.8,5.6],
[2.3,1.6,2.8,2.0,2.6,1.7,3.0,2.2,1.9,2.7, 2.4,3.1,2.1,2.8,2.3,3.4,2.6,3.0,2.2,3.3, 2.9,3.6,2.7,3.4,3.9,3.0,3.7,2.8,4.1,3.5, 3.6,4.4,3.8,4.8,3.5,4.3,4.9,3.9,4.6,4.2, 4.7,5.3,4.4,5.6,4.9,5.4,4.6,6.0,5.1,5.7, 5.5,6.3,5.8,6.7,5.6,6.4,7.0,6.1,6.8,6.3, 6.9,7.6,6.7,7.4,8.0,7.1,7.8,7.3,8.2,7.5, 7.8,8.5,7.6,8.3,8.8,7.9,8.6,8.1]
];

// ---------------- DRAWING ----------------
const W = 1400, H = 865, panelH = H / 3;
const box = {left: 101, right: 1375, top: 50.5, bottom: 186};
const scenarios = [ssp126, ssp245, ssp585];
const nYears = modelHistory[0].length + ssp126[0].length;  // 251
const grey = "#b3b3b3", red = "#ff0000";

const svg = d3.select("#chart");
const x = d3.scaleLinear()
  .domain([1 - 0.04 * (nYears - 1), nYears + 0.04 * (nYears - 1)])
  .range([box.left, box.right]);

scenarioTitles.forEach((title, k) => {
  const g = svg.append("g").attr("transform", `translate(0,${k * panelH})`);
  const y = d3.scaleLinear().domain(yDomains[k]).range([box.bottom, box.top]);
  const line = d3.line().x((d, i) => x(i + 1)).y(d => y(d));
  const models = modelHistory.map((h, i) => h.concat(scenarios[k][i]));

  const plot = g.append("g");
  plot.selectAll("path.model").data(models).join("path")
    .attr("class", "model")
    .attr("d", line)
    .attr("fill", "none").attr("stroke", grey)
    .attr("stroke-width", 1.8).attr("stroke-linejoin", "round");
  plot.append("path").datum(observations)
    .attr("d", line)
    .attr("fill", "none").attr("stroke", red)
    .attr("stroke-width", 3.2).attr("stroke-linejoin", "round");

  // frame
  g.append("rect")
    .attr("x", box.left).attr("y", box.top)
    .attr("width", box.right - box.left).attr("height", box.bottom - box.top)
    .attr("fill", "none").attr("stroke", "#000").attr("stroke-width", 1.8);

  // x axis
  const xa = g.append("g").attr("transform", `translate(0,${box.bottom})`)
    .call(d3.axisBottom(x).tickValues(xTickValues).tickSize(13).tickSizeOuter(0).tickFormat(""));
  xa.select(".domain").remove();
  xa.selectAll(".tick line").attr("stroke", "#000").attr("stroke-width", 1.8);
  g.selectAll("text.xl").data(xTickValues).join("text")
    .attr("class", "xl")
    .attr("x", d => x(d)).attr("y", box.bottom + 46)
    .attr("text-anchor", "middle").attr("font-size", 19)
    .text(d => d);

  // y axis
  const ya = g.append("g").attr("transform", `translate(${box.left},0)`)
    .call(d3.axisLeft(y).tickValues(yTickValues[k]).tickSize(13).tickSizeOuter(0).tickFormat(""));
  ya.select(".domain").remove();
  ya.selectAll(".tick line").attr("stroke", "#000").attr("stroke-width", 1.8);
  g.selectAll("text.yl").data(yTickLabels[k]).join("text")
    .attr("class", "yl")
    .attr("transform", d => `translate(71,${y(d)}) rotate(-90)`)
    .attr("text-anchor", "middle").attr("font-size", 19)
    .text(d => d);

  // axis titles and panel title
  g.append("text")
    .attr("x", (box.left + box.right) / 2).attr("y", box.bottom + 96.5)
    .attr("text-anchor", "middle").attr("font-size", 20.5)
    .text(xLabel);
  g.append("text")
    .attr("transform", `translate(21,${(box.top + box.bottom) / 2}) rotate(-90)`)
    .attr("text-anchor", "middle").attr("font-size", 20.5)
    .text(yLabel);
  g.append("text")
    .attr("x", (box.left + box.right) / 2).attr("y", box.top - 17.5)
    .attr("text-anchor", "middle").attr("font-size", 25).attr("font-weight", "bold")
    .text(title);

  // legend
  const legColors = [grey, red], legWidths = [1.8, 3.2];
  legendLabels.forEach((lab, j) => {
    const ly = box.top + 20.2 + j * 19.5;
    g.append("line")
      .attr("x1", 116).attr("x2", 148).attr("y1", ly).attr("y2", ly)
      .attr("stroke", legColors[j]).attr("stroke-width", legWidths[j]);
    g.append("text")
      .attr("x", 162).attr("y", ly + 6)
      .attr("font-size", 16.7)
      .text(lab);
  });
});
</script>
</body></html>
